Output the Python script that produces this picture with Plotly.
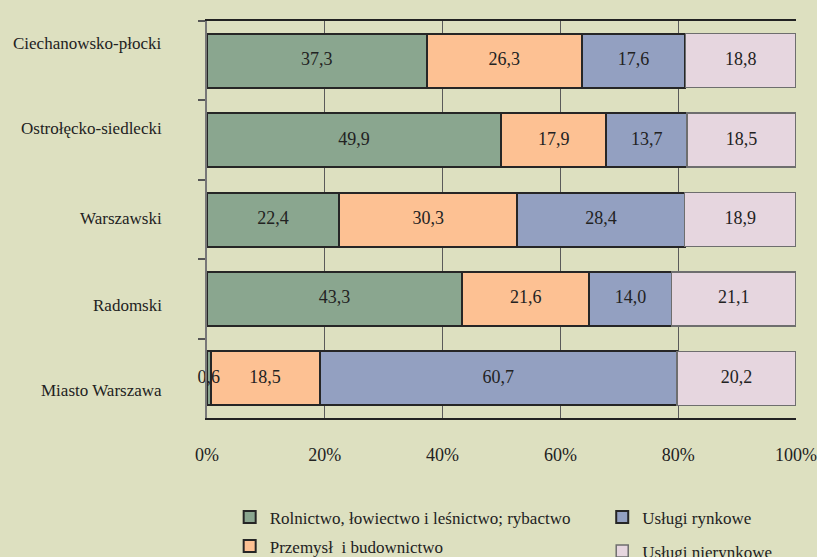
import plotly.graph_objects as go

regions = ["Ciechanowsko-płocki", "Ostrołęcko-siedlecki", "Warszawski", "Radomski", "Miasto Warszawa"]
rolnictwo = [37.3, 49.9, 22.4, 43.3, 0.6]
przemysl = [26.3, 17.9, 30.3, 21.6, 18.5]
rynkowe = [17.6, 13.7, 28.4, 14.0, 60.7]
nierynkowe = [18.8, 18.5, 18.9, 21.1, 20.2]
series_names = ["Rolnictwo, łowiectwo i leśnictwo; rybactwo",
                "Przemysł\u00a0 i budownictwo",
                "Usługi rynkowe",
                "Usługi nierynkowe"]
x_tick_vals = [0, 20, 40, 60, 80, 100]
x_tick_labels = ["0%", "20%", "40%", "60%", "80%", "100%"]

FONT = "Liberation Serif"
BG = "#dde0c0"
TXT = "#222222"
colors = ["#8aa68f", "#fdc193", "#93a0c1", "#e6d6df"]
line_colors = ["#262626", "#262626", "#262626", "#6e6e6e"]
line_widths = [2, 2, 2, 1.5]
legends = ["legend", "legend", "legend2", "legend2"]
series = [rolnictwo, przemysl, rynkowe, nierynkowe]

fig = go.Figure()
for i, (name, vals) in enumerate(zip(series_names, series)):
    fig.add_trace(go.Bar(
        y=regions, x=vals, name=name, orientation="h",
        marker=dict(color=colors[i], line=dict(color=line_colors[i], width=line_widths[i])),
        textposition="none",
        legend=legends[i], legendgroup=f"g{i}",
    ))

# value labels, centred in each segment, drawn above all bars
base = [0.0] * len(regions)
for vals in series:
    mids = [b + v / 2 for b, v in zip(base, vals)]
    fig.add_trace(go.Scatter(
        y=regions, x=mids, mode="text",
        text=[f"{v:.1f}".replace(".", ",") for v in vals],
        textposition="middle center",
        textfont=dict(family=FONT, size=18, color=TXT),
        showlegend=False, hoverinfo="skip", cliponaxis=False,
    ))
    base = [b + v for b, v in zip(base, vals)]

# category labels (slightly offset, as in the original)
label_shift = [17, 12, 1, -7, -12]
for r, s in zip(regions, label_shift):
    fig.add_annotation(x=0, xref="paper", y=r, yref="y", xshift=-43, yshift=s,
                       text=r, showarrow=False, xanchor="right",
                       font=dict(family=FONT, size=17, color=TXT))

fig.update_layout(
    barmode="stack", bargap=0.32,
    width=817, height=557,
    margin=dict(l=207, r=21, t=21, b=139, autoexpand=False),
    paper_bgcolor=BG, plot_bgcolor=BG,
    font=dict(family=FONT, size=17, color=TXT),
    legend=dict(x=0.0385, y=-0.205, xanchor="left", yanchor="top",
                bgcolor="rgba(0,0,0,0)", font=dict(family=FONT, size=17, color=TXT),
                tracegroupgap=4, traceorder="grouped"),
    legend2=dict(x=0.671, y=-0.205, xanchor="left", yanchor="top",
                 bgcolor="rgba(0,0,0,0)", font=dict(family=FONT, size=17, color=TXT),
                 tracegroupgap=9, traceorder="grouped"),
    xaxis=dict(range=[0, 100], tickvals=x_tick_vals, ticktext=x_tick_labels,
               showgrid=True, gridcolor="#5a5a5a", gridwidth=1,
               showline=True, linecolor="#222", linewidth=1.5, mirror=True,
               ticks="", ticklabelstandoff=20, zeroline=False,
               tickfont=dict(family=FONT, size=18, color=TXT)),
    yaxis=dict(autorange="reversed", showticklabels=False,
               ticks="outside", tickson="boundaries", ticklen=7, tickcolor="#555", tickwidth=1.5,
               showline=True, linecolor="#777", linewidth=1.5, showgrid=False),
)

fig.write_html("out.html", config={"displayModeBar": False}, post_script=(
    "document.body.style.margin='0';"
    "document.body.style.background='" + BG + "';"
))
